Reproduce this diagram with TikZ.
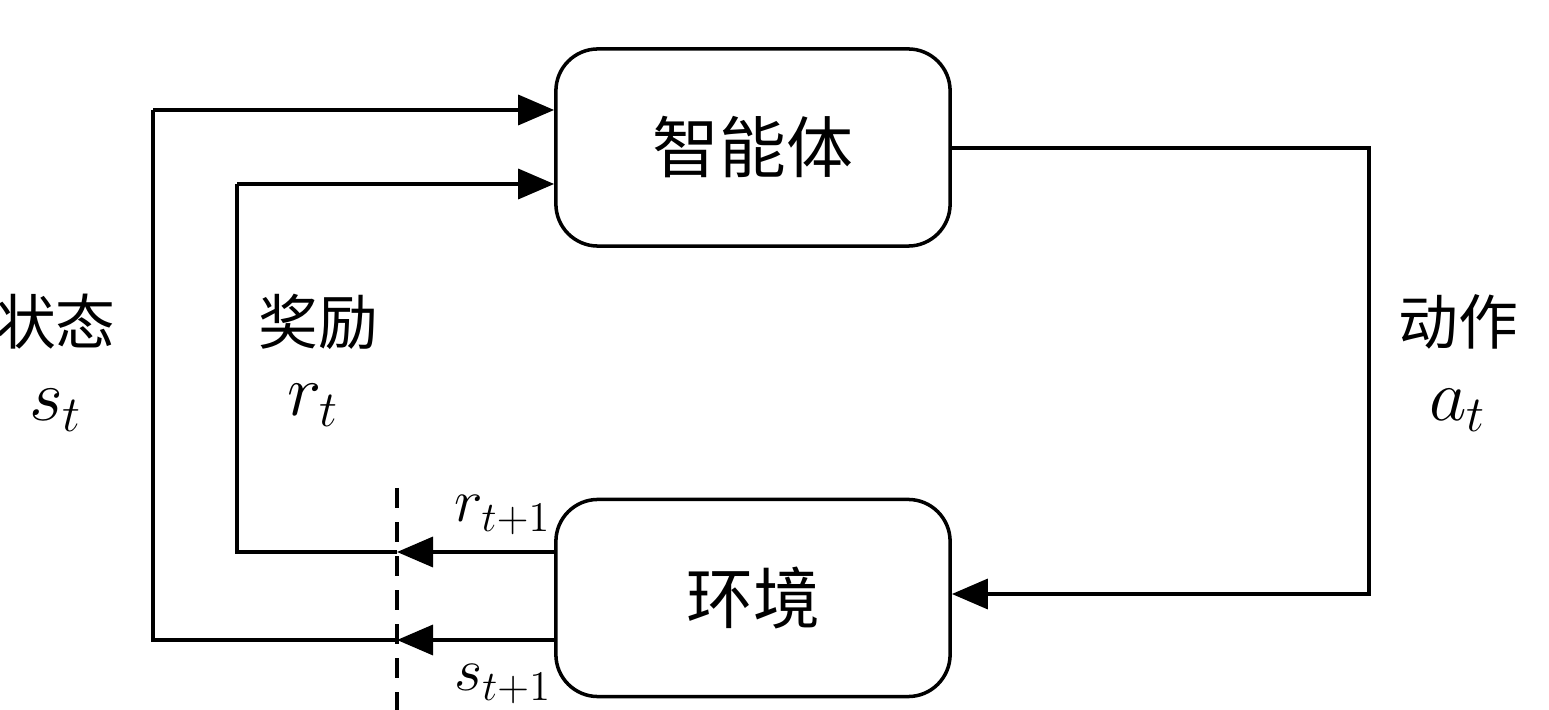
\documentclass[tikz,border=0pt]{standalone}
\usepackage{fontspec}
\newfontfamily\cjk{Noto Sans CJK SC}
\usetikzlibrary{arrows.meta}
\begin{document}
\begin{tikzpicture}[x=0.01cm,y=-0.01cm,
  boxst/.style={draw,line width=1pt,rounded corners=0.42cm,minimum width=3.94cm,minimum height=1.97cm,inner sep=0pt},
  wire/.style={line width=1pt},
  arr/.style={wire,-{Triangle[length=0.36cm,width=0.3cm]}},
  cjklab/.style={font=\cjk\fontsize{17pt}{20pt}\selectfont},
  mathlab/.style={font=\fontsize{20pt}{24pt}\selectfont},
  smath/.style={font=\fontsize{18pt}{22pt}\selectfont}]
\useasboundingbox (0,0) rectangle (1549,710);
\node[boxst,font=\cjk\fontsize{19pt}{22pt}\selectfont] (agent) at (753,147.5) {智能体};
\node[boxst,font=\cjk\fontsize{19pt}{22pt}\selectfont] (env) at (753,598) {环境};
% dashed line
\coordinate (dtop) at (397,488);
\coordinate (dbot) at (397,712);
\draw[wire,dash pattern=on 0.2cm off 0.14cm] (dtop) -- (dbot);
% corners
\coordinate (ol) at (153,640);
\coordinate (olt) at (153,110);
\coordinate (il) at (237,552);
\coordinate (ilt) at (237,184);
\coordinate (dr) at (397,552);
\coordinate (ds) at (397,640);
\coordinate (rt) at (1369,148);
\coordinate (rb) at (1369,594);
% outputs of environment
\draw[arr] (env.west |- dr) -- (dr);
\draw[arr] (env.west |- ds) -- (ds);
\draw[wire] (dr) -- (il) -- (ilt);
\draw[wire] (ds) -- (ol) -- (olt);
\draw[arr] (ilt) -- (ilt -| agent.west);
\draw[arr] (olt) -- (olt -| agent.west);
% action
\draw[arr] (agent.east |- rt) -- (rt) -- (rb) -- (rb -| env.east);
% labels
\node[cjklab] (lstate) at (56,322) {状态};
\node[mathlab] (lst) at (56,410) {$s_t$};
\node[cjklab] (lrew) at (318,322) {奖励};
\node[mathlab] (lrt) at (313,405) {$r_t$};
\node[cjklab] (lact) at (1458,322) {动作};
\node[mathlab] (lat) at (1458,410) {$a_t$};
\node[smath] (lrt1) at (503,515) {$r_{t+1}$};
\node[smath] (lst1) at (503,684) {$s_{t+1}$};
\end{tikzpicture}
\end{document}
